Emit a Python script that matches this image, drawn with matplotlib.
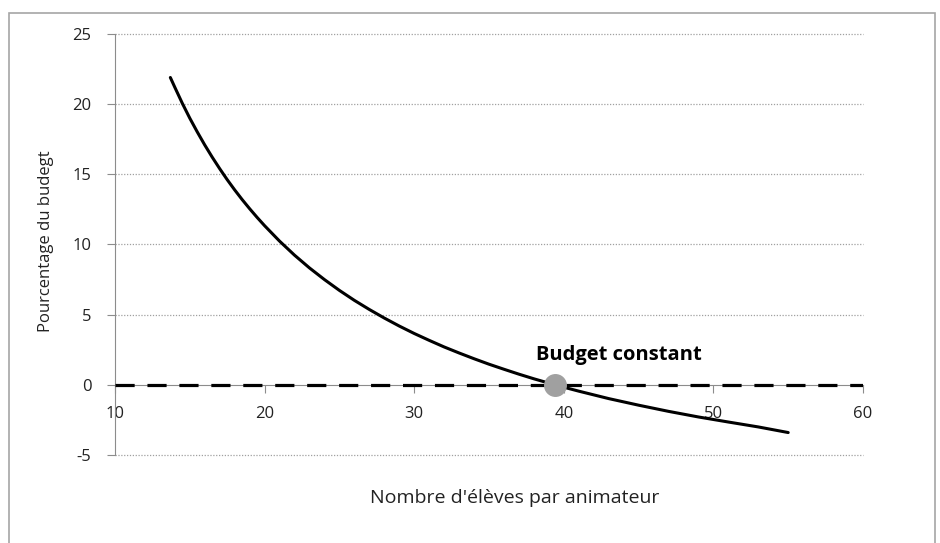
import matplotlib
matplotlib.use("Agg")
import matplotlib.pyplot as plt
from matplotlib.patches import Rectangle

plt.rcParams['font.family'] = ['Open Sans', 'DejaVu Sans']
plt.rcParams['axes.unicode_minus'] = False

# values
eleves = [13.7, 14, 14.5, 15, 15.5, 16, 16.5, 17, 17.5, 18, 18.5, 19, 19.5, 20,
          21, 22, 23, 24, 25, 26, 27, 28, 29, 30, 31, 32, 33, 34, 35, 36, 37, 38,
          39.4, 41, 43, 45, 47, 49, 51, 53, 55]
budget = [21.9, 21.2, 20.06, 19.0, 18.02, 17.09, 16.22, 15.4, 14.62, 13.89, 13.2,
          12.55, 11.93, 11.34, 10.24, 9.24, 8.33, 7.5, 6.73, 6.02, 5.37, 4.76, 4.19,
          3.66, 3.17, 2.7, 2.27, 1.86, 1.47, 1.11, 0.76, 0.43, 0.0, -0.45, -0.98,
          -1.45, -1.89, -2.29, -2.65, -3.0, -3.4]
point_x, point_y = 39.4, 0.0
point_label = "Budget constant"
x_ticks = [10, 20, 30, 40, 50, 60]
y_ticks = [-5, 0, 5, 10, 15, 20, 25]

txt = '#222222'
axis_gray = '#8c8c8c'

W, H = 940, 543
fig = plt.figure(figsize=(9.4, 5.43), dpi=100)

# outer chart border
fig.patches.append(Rectangle((9 / W, -0.01), (935 - 9) / W, 1.01 - 13 / H,
                             transform=fig.transFigure, fill=False,
                             edgecolor='#a6a6a6', lw=1.2))

ax = fig.add_axes([115 / W, 1 - 455 / H, (863 - 115) / W, (455 - 34) / H])
ax.set_xlim(10, 60)
ax.set_ylim(-5, 25)

for y in y_ticks:
    if y != 0:
        ax.axhline(y, color='#a0a0a0', lw=0.9, ls=(0, (1, 1.3)), zorder=1,
                   clip_on=False)

for s in ['top', 'right']:
    ax.spines[s].set_visible(False)
ax.spines['left'].set_color(axis_gray)
ax.spines['bottom'].set_color(axis_gray)
ax.spines['bottom'].set_position(('data', 0))

ax.set_xticks(x_ticks)
ax.set_yticks(y_ticks)
ax.tick_params(axis='y', direction='out', length=6, color=axis_gray, pad=11,
               labelsize=12, labelcolor=txt)
ax.tick_params(axis='x', direction='out', length=6, color=axis_gray, pad=9,
               labelsize=12, labelcolor=txt)

# zero line
ax.plot([10, 60], [0, 0], color='black', lw=2.3, dashes=(6, 4), zorder=3,
        solid_capstyle='butt', dash_capstyle='butt')
ax.plot(eleves, budget, color='black', lw=2.2, zorder=4, solid_capstyle='round')
ax.plot(point_x, point_y, 'o', ms=15.5, color='#a0a0a0', mec='#a0a0a0', zorder=5)
ax.text(43.7, 2.14, point_label, fontsize=14.5, fontweight='bold',
        color='black', ha='center', va='center')

fig.text(515 / W, 1 - 498 / H, "Nombre d'élèves par animateur", fontsize=14,
         color=txt, ha='center', va='center')
fig.text(46 / W, 1 - 241 / H, "Pourcentage du budegt", fontsize=12,
         color=txt, ha='center', va='center', rotation=90)

fig.savefig('out.png', dpi=100)
